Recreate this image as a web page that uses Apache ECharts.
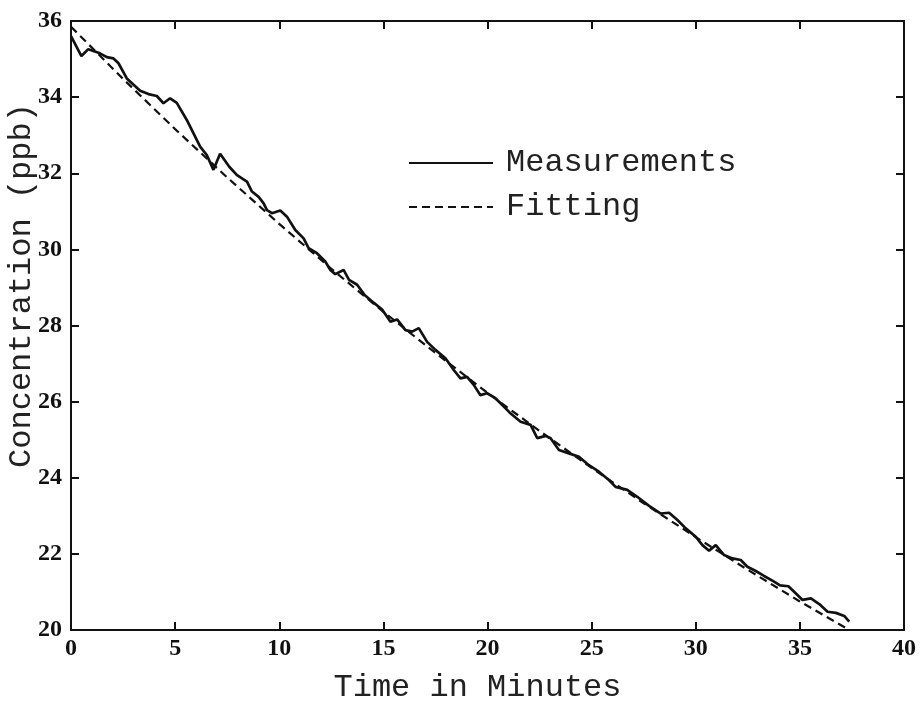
<!DOCTYPE html>
<html>
<head>
<meta charset="utf-8">
<script src="https://cdn.jsdelivr.net/npm/echarts@6/dist/echarts.min.js"></script>
<style>
  html, body { margin: 0; padding: 0; background: #ffffff; }
  #chart { width: 921px; height: 707px; }
</style>
</head>
<body>
<div id="chart"></div>
<script>
// ---- Data ----
const measTime = [0.00, 0.50, 0.83, 1.39, 1.72, 2.03, 2.28, 2.68, 3.32, 3.72, 4.12, 4.44, 4.76, 5.08, 5.56, 6.20, 6.52, 6.84, 7.16, 7.60,
  7.97, 8.45, 8.69, 9.01, 9.25, 9.41, 9.65, 10.05, 10.37, 10.77, 11.17, 11.41, 11.81, 12.21, 12.45, 12.69, 13.09, 13.35, 13.74, 14.10,
  14.53, 14.94, 15.34, 15.66, 16.06, 16.38, 16.70, 17.10, 17.50, 17.98, 18.38, 18.70, 19.02, 19.34, 19.66, 19.98, 20.38, 20.71, 21.07, 21.59,
  22.07, 22.39, 22.79, 23.03, 23.43, 23.91, 24.39, 24.87, 25.35, 25.83, 26.15, 26.71, 27.19, 27.76, 28.32, 28.72, 29.12, 29.52, 30.00, 30.32,
  30.64, 30.96, 31.36, 31.76, 32.16, 32.48, 32.88, 33.28, 33.70, 34.05, 34.45, 34.81, 35.13, 35.53, 35.93, 36.33, 36.73, 37.13, 37.37];
const measConc = [35.60, 35.08, 35.26, 35.15, 35.05, 35.02, 34.89, 34.49, 34.17, 34.08, 34.03, 33.84, 33.97, 33.85, 33.40, 32.70, 32.48, 32.09, 32.51, 32.17,
  31.95, 31.78, 31.52, 31.38, 31.21, 31.03, 30.95, 31.02, 30.86, 30.51, 30.29, 30.03, 29.90, 29.68, 29.46, 29.35, 29.46, 29.20, 29.07, 28.80,
  28.60, 28.42, 28.10, 28.16, 27.88, 27.84, 27.93, 27.57, 27.36, 27.14, 26.83, 26.61, 26.65, 26.44, 26.17, 26.22, 26.09, 25.91, 25.71, 25.47,
  25.39, 25.04, 25.10, 25.04, 24.73, 24.64, 24.55, 24.33, 24.16, 23.94, 23.76, 23.68, 23.50, 23.26, 23.06, 23.08, 22.89, 22.67, 22.45, 22.23,
  22.08, 22.23, 21.97, 21.88, 21.84, 21.66, 21.55, 21.42, 21.29, 21.17, 21.15, 20.96, 20.79, 20.83, 20.68, 20.48, 20.45, 20.37, 20.22];

const fitTime = [0, 2.5, 5, 7.5, 10, 12.5, 15, 17.5, 20, 22.5, 25, 27.5, 30, 32.5, 35, 37.5];
const fitConc = [35.85, 34.48, 33.16, 31.89, 30.67, 29.49, 28.36, 27.28, 26.23, 25.23, 24.26, 23.33, 22.44, 21.58, 20.75, 19.96];

const seriesNames = ['Measurements', 'Fitting'];
const xTitle = 'Time in Minutes';
const yTitle = 'Concentration (ppb)';
const xMin = 0, xMax = 40, xStep = 5;
const yMin = 20, yMax = 36, yStep = 2;

// ---- Build ----
const measData = measTime.map((t, i) => [t, measConc[i]]);
const fitData = fitTime.map((t, i) => [t, fitConc[i]]);

const mono = '"Liberation Mono", "DejaVu Sans Mono", monospace';
const serif = '"Liberation Serif", "DejaVu Serif", serif';

const axisLineStyle = { color: '#111', width: 2 };
const tickStyle = { show: true, inside: true, length: 8, lineStyle: { color: '#111', width: 2 } };

const chart = echarts.init(document.getElementById('chart'), null, { renderer: 'canvas' });
chart.setOption({
  backgroundColor: '#ffffff',
  animation: false,
  grid: { left: 71, right: 17, top: 21, bottom: 77, containLabel: false, outerBoundsMode: 'none' },
  legend: {
    left: 403, top: 142, orient: 'vertical', itemGap: 12,
    itemWidth: 84, itemHeight: 24,
    itemStyle: { color: 'transparent', borderWidth: 0, opacity: 0 },
    textStyle: { fontFamily: mono, fontSize: 32, color: '#222', padding: [0, 0, 0, 8] },
    data: seriesNames
  },
  xAxis: [{
    type: 'value', min: xMin, max: xMax, interval: xStep, position: 'bottom',
    name: xTitle, nameLocation: 'middle', nameGap: 42, nameMoveOverlap: false,
    nameTextStyle: { fontFamily: mono, fontSize: 32, color: '#222', padding: [0, 20, 0, 0] },
    axisLine: { show: true, onZero: false, lineStyle: axisLineStyle },
    axisTick: tickStyle,
    axisLabel: { fontFamily: serif, fontWeight: 'bold', fontSize: 24, color: '#111', margin: 7 },
    splitLine: { show: false }
  }, {
    type: 'value', min: xMin, max: xMax, interval: xStep, position: 'top',
    axisLine: { show: true, onZero: false, lineStyle: axisLineStyle },
    axisTick: tickStyle, axisLabel: { show: false }, splitLine: { show: false }
  }],
  yAxis: [{
    type: 'value', min: yMin, max: yMax, interval: yStep, position: 'left',
    name: yTitle, nameLocation: 'middle', nameGap: 33, nameRotate: 90, nameMoveOverlap: false,
    nameTextStyle: { fontFamily: mono, fontSize: 32, color: '#222', padding: [0, 0, 0, 80] },
    axisLine: { show: true, onZero: false, lineStyle: axisLineStyle },
    axisTick: tickStyle,
    axisLabel: { fontFamily: serif, fontWeight: 'bold', fontSize: 24, color: '#111', margin: 9 },
    splitLine: { show: false }
  }, {
    type: 'value', min: yMin, max: yMax, interval: yStep, position: 'right',
    axisLine: { show: true, onZero: false, lineStyle: axisLineStyle },
    axisTick: tickStyle, axisLabel: { show: false }, splitLine: { show: false }
  }],
  series: [{
    name: seriesNames[0], type: 'line', xAxisIndex: 0, yAxisIndex: 0,
    data: measData, symbol: 'none', showSymbol: false,
    lineStyle: { color: '#111', width: 2.7, type: 'solid' },
    itemStyle: { color: '#111' }
  }, {
    name: seriesNames[1], type: 'line', xAxisIndex: 0, yAxisIndex: 0,
    data: fitData, symbol: 'none', showSymbol: false,
    lineStyle: { color: '#111', width: 2.2, type: [8, 5] },
    itemStyle: { color: '#111' }
  }]
});
</script>
</body>
</html>
